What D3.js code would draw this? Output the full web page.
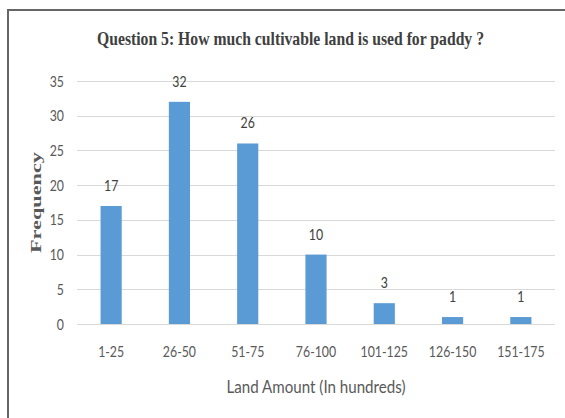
<!DOCTYPE html>
<html>
<head>
<meta charset="utf-8">
<script src="https://cdn.jsdelivr.net/npm/d3@7"></script>
<style>
  html, body { margin: 0; padding: 0; background: #fff; }
  svg { display: block; }
</style>
</head>
<body>
<svg id="chart" width="565" height="418"></svg>
<script>
const categories = ["1-25", "26-50", "51-75", "76-100", "101-125", "126-150", "151-175"];
const frequencies = [17, 32, 26, 10, 3, 1, 1];
const yTicks = [0, 5, 10, 15, 20, 25, 30, 35];
const titleText = "Question 5: How much cultivable land is used for paddy ?";
const xTitle = "Land Amount (In hundreds)";
const yTitle = "Frequency";

const svg = d3.select("#chart");
const W = 565, H = 418;
const plot = { left: 77, right: 555, top: 81, bottom: 324 };
const sansFont = "Lato, 'Liberation Sans', sans-serif";
const squeeze = "scale(0.77,1)";

svg.append("rect").attr("width", W).attr("height", H).attr("fill", "#fff");
// outer frame (left and top edges visible)
svg.append("rect")
  .attr("x", 8).attr("y", 10).attr("width", 700).attr("height", 600)
  .attr("fill", "none").attr("stroke", "#666").attr("stroke-width", 2);

const x = d3.scaleBand().domain(categories).range([plot.left, plot.right])
  .paddingInner(0.69).paddingOuter(0.345);
const y = d3.scaleLinear().domain([0, 35]).range([plot.bottom, plot.top]);

// gridlines
svg.append("g").selectAll("line").data(yTicks).join("line")
  .attr("x1", plot.left).attr("x2", plot.right)
  .attr("y1", d => Math.round(y(d)) + 0.5).attr("y2", d => Math.round(y(d)) + 0.5)
  .attr("stroke", "#d9d9d9").attr("stroke-width", 1);

// y axis labels
const yAxis = d3.axisLeft(y).tickValues(yTicks).tickSize(0).tickPadding(0);
const gy = svg.append("g").attr("transform", `translate(64,0)`).call(yAxis);
gy.select(".domain").remove();
gy.selectAll("text")
  .attr("x", 0)
  .attr("transform", squeeze)
  .attr("font-family", sansFont)
  .attr("font-size", 16).attr("fill", "#595959");

// x axis labels
const xAxis = d3.axisBottom(x).tickSize(0).tickPadding(0);
const gx = svg.append("g").attr("transform", `translate(0,345)`).call(xAxis);
gx.select(".domain").remove();
gx.selectAll("text")
  .attr("dy", "0.76em")
  .attr("transform", squeeze)
  .attr("font-family", sansFont)
  .attr("font-size", 16).attr("fill", "#595959");

// bars
svg.append("g").selectAll("rect").data(frequencies).join("rect")
  .attr("x", (d, i) => x(categories[i]))
  .attr("width", x.bandwidth())
  .attr("y", d => y(d))
  .attr("height", d => y(0) - y(d))
  .attr("fill", "#5b9bd5");

// data labels
svg.append("g").selectAll("text").data(frequencies).join("text")
  .attr("transform", (d, i) => `translate(${x(categories[i]) + x.bandwidth() / 2},${y(d) - 15}) ${squeeze}`)
  .attr("text-anchor", "middle")
  .attr("font-family", sansFont)
  .attr("font-size", 16).attr("fill", "#404040")
  .text(d => d);

// title
svg.append("text")
  .attr("x", 290.5).attr("y", 45)
  .attr("text-anchor", "middle")
  .attr("font-family", "'Liberation Serif', 'Times New Roman', serif")
  .attr("font-weight", "bold").attr("font-size", 19)
  .attr("fill", "#404040")
  .attr("textLength", 387).attr("lengthAdjust", "spacingAndGlyphs")
  .text(titleText);

// x title
svg.append("text")
  .attr("x", 316).attr("y", 393)
  .attr("text-anchor", "middle")
  .attr("font-family", sansFont)
  .attr("font-size", 17).attr("fill", "#595959")
  .attr("textLength", 179).attr("lengthAdjust", "spacingAndGlyphs")
  .text(xTitle);

// y title
svg.append("text")
  .attr("transform", "translate(41,202.5) rotate(-90)")
  .attr("text-anchor", "middle")
  .attr("font-family", "'Liberation Serif', 'Times New Roman', serif")
  .attr("font-weight", "bold").attr("font-size", 15)
  .attr("fill", "#595959")
  .attr("textLength", 101).attr("lengthAdjust", "spacingAndGlyphs")
  .text(yTitle);
</script>
</body>
</html>
